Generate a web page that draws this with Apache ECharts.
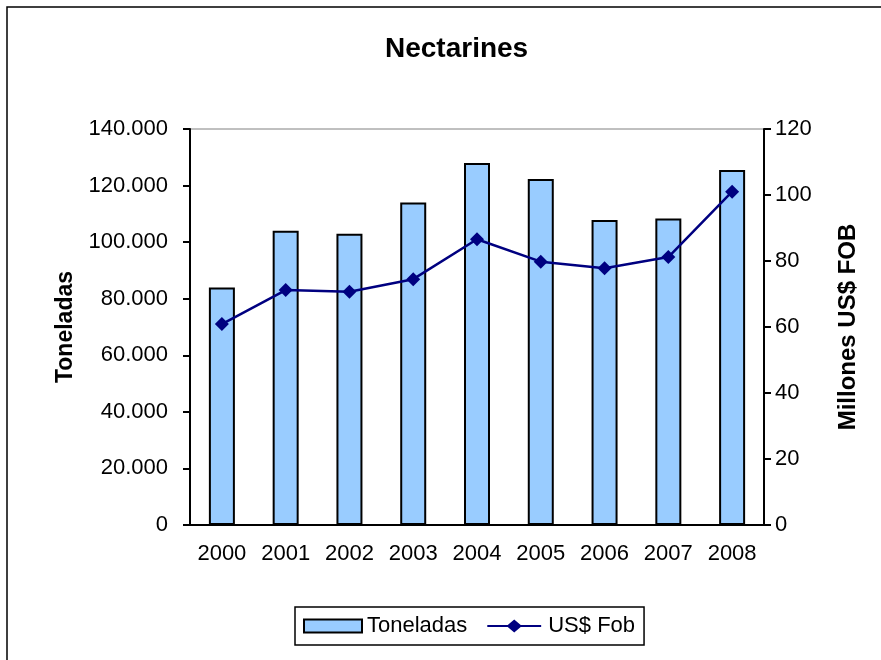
<!DOCTYPE html>
<html>
<head>
<meta charset="utf-8">
<script src="https://cdn.jsdelivr.net/npm/echarts@6/dist/echarts.min.js"></script>
<style>
  html, body { margin: 0; padding: 0; background: #fff; }
  #chart { width: 881px; height: 660px; }
</style>
</head>
<body>
<div id="chart"></div>
<script>
  // data
  var years = ['2000', '2001', '2002', '2003', '2004', '2005', '2006', '2007', '2008'];
  var toneladas = [84000, 104000, 103000, 114000, 128000, 122300, 107800, 108400, 125500];
  var usFob = [60.9, 71.2, 70.7, 74.5, 86.6, 79.8, 77.8, 81.2, 101.0];

  var font = 'Liberation Sans, Arial, sans-serif';

  function dots(v) {
    return String(v).replace(/\B(?=(\d{3})+(?!\d))/g, '.');
  }

  // legend icon: line with a diamond in the middle
  var lineDiamond = 'path://M0,6 L22,6 L29,0 L36,6 L58,6 L58,8 L36,8 L29,14 L22,8 L0,8 Z';

  var myChart = echarts.init(document.getElementById('chart'));
  var option = {
    animation: false,
    textStyle: { fontFamily: font },
    title: {
      text: 'Nectarines',
      left: 380,
      top: 30,
      textStyle: { fontSize: 28, fontWeight: 'bold', color: '#000', fontFamily: font }
    },
    graphic: [
      {
        type: 'rect',
        shape: { x: 7, y: 7, width: 900, height: 700 },
        style: { fill: 'none', stroke: '#000', lineWidth: 1.5 },
        silent: true
      }
    ],
    legend: {
      left: 295,
      top: 607,
      padding: [8, 9, 8, 8],
      borderColor: '#000',
      borderWidth: 1.5,
      itemWidth: 58,
      itemHeight: 13,
      itemGap: 20,
      textStyle: { fontSize: 22, color: '#000', fontFamily: font },
      data: [
        { name: 'Toneladas', icon: 'rect' },
        { name: 'US$ Fob', icon: lineDiamond }
      ]
    },
    grid: {
      left: 190,
      right: 117,
      top: 129,
      bottom: 135,
      show: true,
      borderColor: '#808080',
      borderWidth: 1
    },
    xAxis: {
      type: 'category',
      data: years,
      axisLine: { lineStyle: { color: '#000', width: 2 } },
      axisTick: { length: 7, lineStyle: { color: '#000', width: 2 } },
      axisLabel: { fontSize: 22, color: '#000', margin: 18 }
    },
    yAxis: [
      {
        type: 'value',
        min: 0,
        max: 140000,
        interval: 20000,
        name: 'Toneladas',
        nameLocation: 'middle',
        nameRotate: 90,
        nameGap: 112,
        nameTextStyle: { fontSize: 23, fontWeight: 'bold', color: '#000' },
        axisLine: { show: true, lineStyle: { color: '#000', width: 2 } },
        axisTick: { show: true, length: 7, lineStyle: { color: '#000', width: 2 } },
        axisLabel: { fontSize: 22, color: '#000', margin: 22, formatter: dots },
        splitLine: { show: false }
      },
      {
        type: 'value',
        min: 0,
        max: 120,
        interval: 20,
        name: 'Millones US$ FOB',
        nameLocation: 'middle',
        nameRotate: 90,
        nameGap: 72,
        nameTextStyle: { fontSize: 24, fontWeight: 'bold', color: '#000' },
        axisLine: { show: true, lineStyle: { color: '#000', width: 2 } },
        axisTick: { show: true, length: 7, lineStyle: { color: '#000', width: 2 } },
        axisLabel: { fontSize: 22, color: '#000', margin: 11 },
        splitLine: { show: false }
      }
    ],
    series: [
      {
        name: 'Toneladas',
        type: 'bar',
        barWidth: 26,
        yAxisIndex: 0,
        itemStyle: { color: '#99CCFF', borderColor: '#000', borderWidth: 2 },
        data: toneladas
      },
      {
        name: 'US$ Fob',
        type: 'line',
        yAxisIndex: 1,
        symbol: 'diamond',
        symbolSize: 14,
        lineStyle: { color: '#000080', width: 2.5 },
        itemStyle: { color: '#000080' },
        data: usFob
      }
    ]
  };
  myChart.setOption(option);
</script>
</body>
</html>
